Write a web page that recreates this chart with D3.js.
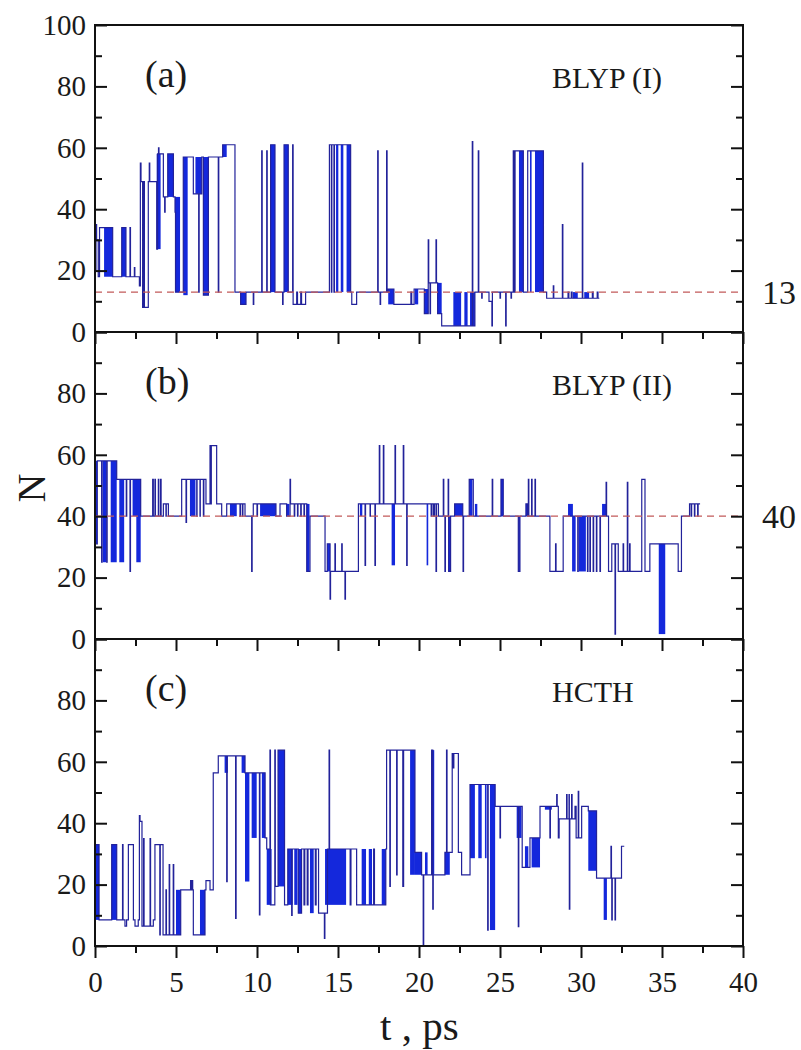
<!DOCTYPE html>
<html><head><meta charset="utf-8">
<script src="https://cdn.jsdelivr.net/npm/d3@7"></script>
<style>
html,body{margin:0;padding:0;background:#fff;}
svg text{font-family:"Liberation Serif","Times New Roman",serif;fill:#1a1a1a;}
</style></head>
<body>
<svg id="chart" width="801" height="1050"></svg>
<script>
// ---------- data ----------
const xMajorTicks = [0,5,10,15,20,25,30,35,40];
const xMinorTicks = [2.5,7.5,12.5,17.5,22.5,27.5,32.5,37.5];
const yMajorTicks = [0,20,40,60,80,100];
const yMinorTicks = [10,30,50,70,90];
const panelTags = ["(a)","(b)","(c)"];
const methodNames = ["BLYP (I)","BLYP (II)","HCTH"];
const refLevels = [13, 40, null];

// step series: [t (ps), N] – value holds from t until next point
const stepsA = [[0,20],[0.06,35],[0.1,30],[0.2,18],[0.28,34],[1.09,18],[1.65,34],[1.91,18],[2.16,34],[2.19,18],[2.43,21],[2.46,18],[2.74,15],[2.8,55],[2.84,49],[2.94,8],[3.0,49],[3.05,8],[3.29,49],[3.35,55],[3.38,49],[3.81,27],[3.86,58],[3.92,60],[3.95,58],[4.22,44],[4.3,39],[4.33,44],[4.49,58],[4.84,44],[4.94,39],[4.97,13],[5.25,13],[5.45,57],[5.72,57],[6.07,45],[6.4,13],[6.43,45],[6.59,57],[6.69,12],[7.0,57],[7.61,13],[7.64,57],[7.88,61],[8.13,61],[8.64,13],[8.99,9],[9.32,13],[9.77,9],[9.8,13],[10.29,59],[10.32,13],[10.6,59],[10.63,13],[10.84,61],[11.11,13],[11.58,9],[11.61,13],[11.67,61],[11.93,13],[12.2,61],[12.23,9],[12.45,13],[12.5,9],[12.7,13],[12.75,9],[13.0,13],[14.47,61],[14.59,13],[14.62,61],[14.75,13],[14.78,61],[15.78,13],[15.85,9],[16.15,13],[17.45,59],[17.48,13],[17.6,9],[17.63,13],[18.0,59],[18.03,13],[18.1,14],[18.45,9],[19.5,13],[19.55,9],[19.7,14],[20.33,6],[20.57,30],[20.6,16],[20.68,6],[20.71,16],[21.05,30],[21.08,16],[21.15,6],[21.4,2],[23.29,62],[23.32,2],[23.45,13],[23.66,59],[23.69,13],[23.87,11],[23.9,13],[24.32,10],[24.5,2],[24.53,13],[25.0,11],[25.03,13],[25.35,2],[25.38,13],[25.68,11],[25.71,13],[25.82,59],[25.86,13],[25.93,59],[26.44,13],[26.71,59],[27.68,13],[27.88,11],[28.29,15],[28.32,11],[28.85,35],[28.88,11],[29.2,13],[29.25,11],[29.4,13],[29.45,11],[30.08,55],[30.11,11],[30.7,13],[30.75,11],[31.0,13],[31.05,11],[31.13,11]];
// dense switching regions: [t0, t1, Nlow, Nhigh]
const blocksA = [[0.56,1.09,18,34],[1.65,1.91,18,34],[3.81,4.05,27,58],[4.49,4.84,44,58],[4.94,5.25,13,44],[5.45,5.72,12,57],[6.2,6.59,45,57],[6.69,7.0,12,57],[7.88,8.13,57,61],[8.99,9.32,9,13],[10.84,11.11,13,61],[11.67,11.93,13,61],[14.88,15.02,13,61],[15.17,15.33,13,61],[15.53,15.78,13,61],[18.1,18.45,9,14],[19.75,19.95,9,14],[20.33,20.57,6,14],[21.15,21.4,6,16],[22.12,22.6,2,13],[22.8,23.0,2,13],[23.15,23.45,2,13],[26.17,26.44,13,59],[26.85,26.95,13,59],[27.16,27.68,13,59],[29.5,29.8,11,13],[30.2,30.5,11,13]];

const stepsB = [[0,31],[0.14,58],[0.41,25],[0.44,58],[0.72,25],[0.75,58],[1.34,52],[1.93,40],[1.96,52],[2.16,22],[2.19,52],[2.82,40],[3.56,52],[3.6,40],[3.7,52],[3.73,40],[3.91,52],[3.94,40],[4.05,52],[4.08,40],[4.22,44],[4.38,40],[4.4,44],[4.53,40],[5.35,52],[5.62,38],[5.65,52],[6.28,40],[6.3,52],[6.48,40],[6.5,52],[6.69,40],[6.72,52],[6.85,44],[7.1,63],[7.14,44],[7.18,63],[7.51,44],[7.82,40],[8.13,44],[8.95,40],[8.98,44],[9.1,40],[9.13,44],[9.26,40],[9.67,22],[9.7,40],[9.77,44],[10.0,40],[10.03,44],[11.17,40],[11.42,44],[11.83,40],[12.04,52],[12.07,44],[12.3,40],[12.33,44],[12.5,40],[12.53,44],[12.7,40],[12.73,44],[12.9,40],[12.93,44],[13.07,22],[13.27,40],[14.2,22],[14.34,31],[14.51,13],[14.54,22],[14.81,31],[14.84,22],[15.23,31],[15.26,22],[15.43,13],[15.46,22],[16.26,44],[16.67,24],[16.7,44],[16.98,40],[17.0,44],[17.28,24],[17.31,44],[17.55,63],[17.58,44],[17.8,63],[17.83,44],[18.52,63],[18.55,44],[19.03,63],[19.06,44],[19.24,24],[19.27,44],[20.75,40],[20.8,44],[20.9,40],[20.95,44],[21.05,22],[21.08,44],[21.2,40],[21.5,52],[21.53,40],[21.6,22],[21.63,40],[21.8,52],[21.83,22],[21.95,40],[22.2,44],[22.7,40],[22.72,22],[22.75,40],[23.1,52],[23.35,40],[24.52,52],[24.55,40],[25.06,52],[25.2,40],[26.13,22],[26.23,40],[26.6,44],[26.7,40],[26.75,52],[26.78,40],[26.95,52],[26.98,40],[27.16,52],[27.19,40],[28.08,22],[28.43,31],[28.46,22],[28.9,40],[29.8,22],[29.83,40],[30.4,22],[30.43,40],[30.55,22],[30.58,40],[30.75,22],[30.78,40],[30.95,22],[30.98,40],[31.17,22],[31.2,40],[31.55,51],[31.58,40],[31.7,22],[31.9,31],[32.1,1.6],[32.13,31],[32.3,22],[32.6,31],[32.63,22],[32.86,51],[32.89,22],[33.0,31],[33.03,22],[33.75,52],[33.95,22],[34.25,31],[36.0,22],[36.2,40],[36.7,44],[36.8,40],[36.83,44],[37.0,40],[37.03,44],[37.2,40],[37.23,44],[37.35,44]];
const blocksB = [[0,0.14,31,58],[0.48,0.68,25,58],[0.97,1.34,25,58],[1.5,1.8,25,52],[2.32,2.82,40,52],[2.55,2.82,25,52],[5.86,6.2,40,52],[8.33,8.75,40,44],[10.19,11.17,40,44],[11.83,12.0,40,44],[13.07,13.24,22,44],[14.34,14.51,22,31],[16.35,16.5,40,44],[18.31,18.52,24,44],[20.47,20.57,24,44],[21.83,21.95,22,40],[22.2,22.7,40,44],[23.1,23.3,40,52],[23.45,23.6,40,44],[25.06,25.2,40,52],[26.13,26.23,22,40],[26.6,26.7,40,44],[29.2,29.5,40,44],[29.45,29.67,22,40],[29.87,30.3,22,40],[31.3,31.6,40,44],[34.8,35.2,1.6,31]];

const stepsC = [[0,33],[0.25,8.5],[1.03,33],[1.34,8.5],[1.7,33],[1.73,8.5],[1.85,6.5],[1.95,8.5],[2.06,33],[2.37,8.5],[2.47,6.5],[2.67,8.5],[2.74,42.5],[2.78,40.6],[2.9,6.5],[3.0,35],[3.03,6.5],[3.4,35],[3.43,6.5],[3.6,8.5],[3.7,33],[4.0,3.6],[4.03,33],[4.2,3.6],[4.38,18.3],[4.41,3.6],[4.58,26.5],[4.61,3.6],[4.83,26.5],[4.86,3.6],[5.29,18.3],[5.9,21.3],[5.93,18.3],[6.0,21.3],[6.03,18.3],[6.07,3.6],[6.79,18.3],[6.85,21.3],[7.1,18.3],[7.3,56.4],[7.61,61.9],[8.13,21],[8.16,61.9],[8.68,9],[8.71,61.9],[9.26,56.4],[10.15,10.1],[10.18,56.4],[10.5,35.2],[10.6,31.6],[10.8,63.8],[10.83,13.4],[11.1,63.8],[11.13,19.4],[11.3,63.8],[11.7,13.4],[11.9,31.6],[12.14,10],[12.17,31.6],[12.55,10.7],[12.75,31.6],[12.9,13.4],[12.95,31.6],[13.1,13.4],[13.15,31.6],[13.5,31.6],[13.6,13.4],[13.65,31.6],[13.8,10.7],[14.16,2.5],[14.19,10.7],[14.35,31.6],[14.45,63.8],[14.48,31.6],[15.53,31.6],[15.75,13.4],[15.8,31.6],[16.15,13.4],[17.2,31.6],[17.25,13.4],[17.95,31.6],[18.0,63.8],[18.2,19.4],[18.23,63.8],[18.62,23.2],[18.65,63.8],[19.0,19.4],[19.05,63.8],[19.75,30.5],[20.16,23.2],[20.26,0.3],[20.29,23.2],[20.78,63.8],[20.85,12],[20.88,23.2],[21.6,30.5],[21.7,63.8],[21.73,30.5],[22.05,62.7],[22.1,58],[22.15,62.7],[22.43,30.5],[22.63,23.2],[23.15,52.6],[24.24,5.2],[24.27,52.6],[24.7,45.5],[25.0,35.2],[25.03,45.5],[26.13,6.3],[26.16,45.5],[26.37,25.6],[26.85,35.2],[27.47,45.5],[28.08,35.2],[28.11,45.5],[28.5,49.3],[28.53,45.5],[28.6,35.2],[28.65,41.4],[29.11,49.3],[29.14,41.4],[29.26,49.3],[29.28,12],[29.31,41.4],[29.42,49.3],[29.45,41.4],[29.63,45.5],[29.7,35.2],[29.83,50.4],[29.86,35.2],[30.04,45.5],[30.45,44],[30.96,22.1],[31.85,32.5],[31.88,22.1],[31.9,8.5],[31.93,22.1],[32.1,8.5],[32.13,22.1],[32.5,32.5],[32.67,32.5]];
const blocksC = [[0,0.25,8.5,33],[1.03,1.34,8.5,33],[5.0,5.29,3.6,18.3],[6.48,6.79,3.6,18.3],[8.0,8.2,56.4,61.9],[9.05,9.26,56.4,61.9],[9.26,9.53,21,56.4],[9.67,9.98,35.2,56.4],[10.3,10.5,35.2,56.4],[10.6,10.9,13.4,31.6],[11.3,11.7,19.4,63.8],[11.9,12.2,13.4,31.6],[12.3,12.5,13.4,31.6],[12.55,12.75,10.7,31.6],[13.27,13.5,10.7,31.6],[14.2,15.5,13.4,31.6],[16.46,16.73,13.4,31.6],[16.9,17.1,13.4,31.6],[17.7,17.95,13.4,31.6],[19.45,19.75,23.2,63.8],[19.75,20.16,23.2,30.5],[20.37,20.53,23.2,30.5],[20.78,20.94,23.2,63.8],[21.6,21.9,23.2,30.5],[23.15,23.45,28.6,52.6],[23.66,23.87,28.6,52.6],[24.07,24.17,28.6,52.6],[24.38,24.7,5.2,52.6],[26.03,26.33,35.2,45.5],[26.54,26.75,25.6,32.5],[26.95,27.47,25.6,35.2],[27.77,28.2,44.4,45.5],[30.45,30.96,24.5,44],[31.4,31.6,8.5,22.1]];

const panelSteps = [stepsA, stepsB, stepsC];
const panelBlocks = [blocksA, blocksB, blocksC];

// ---------- layout ----------
const svg = d3.select("#chart");
const plotLeft = 95, plotRight = 743, plotTop = 25, panelH = 307;
const x = d3.scaleLinear().domain([0,40]).range([plotLeft, plotRight]);
const lineColor = "#22229a", blockColor = "#1428dc";

panelSteps.forEach((steps, i) => {
  const top = plotTop + i*panelH, bottom = top + panelH;
  const y = d3.scaleLinear().domain([0,100]).range([bottom, top]);
  const g = svg.append("g");

  // dense blocks
  g.selectAll("rect.blk").data(panelBlocks[i]).join("rect")
    .attr("x", d => x(d[0])).attr("width", d => Math.max(1, x(d[1]) - x(d[0])))
    .attr("y", d => y(d[3])).attr("height", d => y(d[2]) - y(d[3]))
    .attr("fill", blockColor);

  // step line
  const line = d3.line().x(d => x(d[0])).y(d => y(d[1])).curve(d3.curveStepAfter);
  g.append("path").datum(steps).attr("d", line)
    .attr("fill","none").attr("stroke", lineColor).attr("stroke-width", 1.2);

  // reference level
  if (refLevels[i] !== null) {
    g.append("line").attr("x1", x(0)).attr("x2", x(40))
      .attr("y1", y(refLevels[i])).attr("y2", y(refLevels[i]))
      .attr("stroke", "#c25a5a").attr("stroke-width", 1.3).attr("stroke-dasharray", "7,5");
    g.append("text").attr("x", 762).attr("y", y(refLevels[i]))
      .attr("dy", "0.35em").attr("font-size", 34).text(refLevels[i]);
  }

  // frame
  g.append("rect").attr("x", plotLeft).attr("y", top).attr("width", plotRight-plotLeft).attr("height", panelH)
    .attr("fill","none").attr("stroke","#111").attr("stroke-width",2);

  const labels = i === 0 ? yMajorTicks : yMajorTicks.filter(v => v < 100);
  // left axis
  const la = g.append("g").attr("transform", `translate(${plotLeft},0)`)
    .call(d3.axisLeft(y).tickValues(yMajorTicks).tickSize(-12).tickPadding(9)
      .tickFormat(v => labels.includes(v) ? v : ""));
  la.append("g").call(d3.axisLeft(y).tickValues(yMinorTicks).tickSize(-7).tickFormat(""));
  // right axis
  const ra = g.append("g").attr("transform", `translate(${plotRight},0)`)
    .call(d3.axisRight(y).tickValues(yMajorTicks).tickSize(-12).tickFormat(""));
  ra.append("g").call(d3.axisRight(y).tickValues(yMinorTicks).tickSize(-7).tickFormat(""));
  // bottom axis
  const ba = g.append("g").attr("transform", `translate(0,${bottom})`)
    .call(d3.axisBottom(x).tickValues(xMajorTicks).tickSize(12).tickPadding(13)
      .tickFormat(i === 2 ? d3.format("d") : () => ""));
  ba.append("g").call(d3.axisBottom(x).tickValues(xMinorTicks).tickSize(7).tickFormat(""));

  [la, ra, ba].forEach(a => {
    a.selectAll(".domain").remove();
    a.selectAll("line").attr("stroke","#111").attr("stroke-width",2);
    a.selectAll("text").attr("font-size",29).attr("fill","#1a1a1a")
      .style("font-family", '"Liberation Serif", serif');
  });

  // panel labels
  g.append("text").attr("x", 145).attr("y", top + 62).attr("font-size", 38).text(panelTags[i]);
  g.append("text").attr("x", 552).attr("y", top + 63).attr("font-size", 30).text(methodNames[i]);
});

// axis titles
svg.append("text").attr("transform", "translate(45,488) rotate(-90)")
  .attr("text-anchor","middle").attr("font-size", 40).text("N");
svg.append("text").attr("x", 380).attr("y", 1040).attr("font-size", 41).text("t , ps");
</script>
</body></html>
